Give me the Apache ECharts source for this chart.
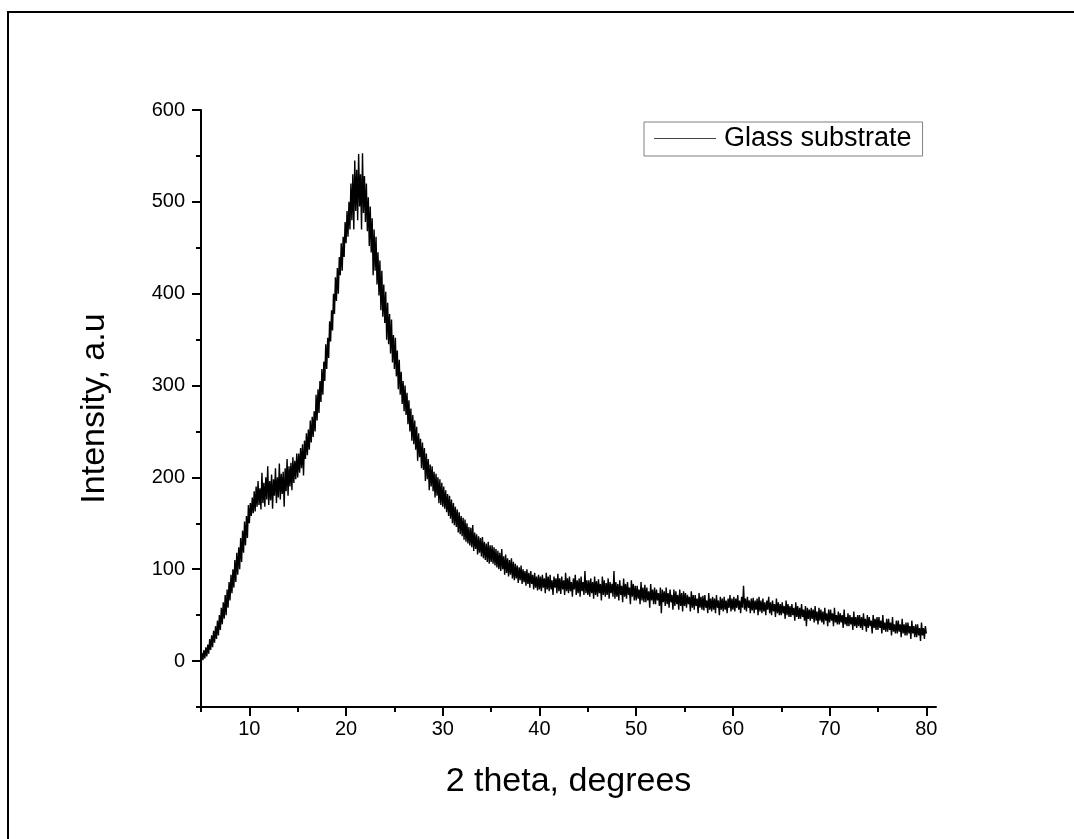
<!DOCTYPE html>
<html>
<head>
<meta charset="utf-8">
<script src="https://cdn.jsdelivr.net/npm/echarts@6/dist/echarts.min.js"></script>
<style>
  html, body { margin: 0; padding: 0; background: #fff; }
  #chart { width: 1074px; height: 839px; }
</style>
</head>
<body>
<div id="chart"></div>
<script>
  // XRD scan, 2 theta from 5 to 80 deg, step 0.1 deg
  var startAngle = 5;
  var stepAngle = 0.1;

  var intensity05 = [0, 9, 1, 12, 3, 15, 5, 18, 8, 24, 12, 28, 15, 33, 20, 38, 24, 44, 28, 50,
    34, 58, 40, 64, 46, 72, 50, 78, 58, 86, 66, 94, 74, 100, 80, 110, 86, 118, 94, 124,
    100, 134, 108, 142, 118, 152, 126, 158, 134, 170];
  var intensity10 = [150, 172, 158, 178, 161, 185, 163, 190, 168, 196, 170, 188, 165, 205, 172, 194, 168, 200, 176, 212,
    170, 196, 175, 203, 166, 198, 180, 210, 172, 200, 178, 215, 176, 204, 182, 206, 168, 210, 185, 220,
    180, 212, 190, 216, 186, 222, 194, 218, 198, 226];
  var intensity15 = [200, 226, 205, 232, 210, 236, 202, 240, 220, 248, 224, 252, 230, 262, 238, 266, 244, 272, 250, 290,
    262, 296, 270, 305, 282, 318, 290, 326, 305, 345, 318, 352, 330, 370, 348, 382, 360, 400, 378, 418,
    392, 428, 400, 440, 420, 455, 425, 462, 440, 478];
  var intensity20 = [455, 490, 462, 500, 470, 520, 480, 530, 470, 545, 490, 535, 480, 552, 495, 530, 470, 553, 488, 528,
    478, 520, 468, 505, 452, 495, 445, 482, 420, 470, 425, 462, 410, 445, 398, 436, 382, 425, 375, 410,
    368, 402, 350, 390, 345, 378, 335, 372, 325, 355];
  var intensity25 = [318, 352, 310, 338, 296, 328, 290, 315, 280, 305, 272, 300, 268, 292, 258, 284, 250, 275, 240, 268,
    236, 262, 230, 255, 218, 248, 222, 242, 210, 238, 208, 232, 196, 226, 198, 220, 186, 214, 190, 212,
    185, 206, 178, 204, 180, 200, 172, 198, 170, 194];
  var intensity30 = [168, 190, 166, 186, 162, 182, 158, 180, 155, 176, 150, 172, 148, 168, 146, 165, 140, 162, 138, 158,
    136, 156, 132, 154, 130, 150, 128, 146, 126, 145, 124, 148, 120, 140, 122, 138, 116, 136, 118, 134,
    114, 135, 112, 130, 110, 128, 108, 130, 106, 126];
  var intensity35 = [108, 126, 106, 124, 104, 122, 102, 120, 100, 118, 98, 122, 100, 114, 94, 116, 96, 112, 92, 110,
    94, 112, 90, 108, 88, 106, 90, 104, 85, 102, 88, 104, 84, 100, 86, 98, 82, 100, 84, 96,
    80, 98, 84, 94, 78, 96, 80, 92, 77, 94];
  var intensity40 = [78, 92, 76, 94, 80, 90, 74, 96, 78, 92, 76, 94, 78, 88, 72, 92, 80, 90, 74, 95,
    76, 90, 73, 92, 78, 88, 72, 96, 76, 90, 74, 92, 76, 86, 70, 90, 78, 94, 72, 88,
    74, 90, 70, 92, 76, 86, 72, 98, 74, 88];
  var intensity45 = [72, 88, 70, 90, 74, 86, 68, 92, 72, 87, 70, 89, 74, 84, 66, 92, 72, 88, 70, 85,
    72, 90, 68, 86, 74, 84, 70, 98, 68, 86, 70, 84, 66, 88, 72, 82, 64, 90, 70, 84,
    68, 86, 72, 80, 62, 88, 70, 84, 66, 82];
  var intensity50 = [66, 82, 68, 78, 62, 86, 66, 80, 64, 83, 64, 80, 66, 76, 58, 84, 66, 78, 62, 80,
    62, 78, 66, 74, 60, 80, 52, 78, 64, 76, 60, 80, 62, 74, 58, 78, 64, 72, 56, 78,
    60, 76, 62, 72, 56, 78, 60, 74, 54, 76];
  var intensity55 = [60, 74, 58, 72, 62, 70, 54, 76, 58, 72, 56, 72, 60, 68, 52, 74, 58, 70, 56, 71,
    55, 72, 58, 66, 52, 74, 56, 68, 54, 70, 56, 68, 52, 72, 58, 66, 50, 70, 56, 68,
    54, 70, 56, 66, 52, 68, 58, 72, 54, 68];
  var intensity60 = [56, 70, 54, 68, 58, 72, 56, 66, 52, 70, 58, 82, 56, 68, 54, 70, 58, 66, 52, 68,
    55, 69, 52, 66, 56, 68, 50, 70, 54, 66, 52, 68, 54, 64, 50, 66, 56, 70, 52, 64,
    50, 66, 54, 62, 48, 68, 52, 64, 50, 62];
  var intensity65 = [50, 64, 52, 60, 46, 66, 50, 62, 48, 60, 48, 62, 50, 58, 44, 64, 48, 60, 46, 58,
    46, 62, 48, 56, 44, 60, 38, 58, 46, 56, 44, 58, 46, 56, 42, 60, 44, 54, 40, 58,
    44, 56, 42, 54, 40, 58, 44, 52, 38, 56];
  var intensity70 = [42, 56, 44, 52, 38, 58, 42, 50, 40, 54, 40, 52, 42, 50, 36, 56, 40, 48, 38, 52,
    38, 50, 40, 48, 34, 54, 38, 48, 36, 50, 38, 50, 36, 48, 34, 52, 38, 46, 32, 50,
    36, 48, 38, 44, 30, 50, 36, 46, 34, 48];
  var intensity75 = [34, 48, 36, 44, 30, 50, 34, 42, 32, 46, 32, 46, 34, 42, 28, 48, 32, 40, 30, 44,
    30, 44, 32, 40, 26, 46, 30, 40, 28, 42, 28, 42, 30, 38, 24, 44, 30, 38, 26, 40,
    26, 40, 28, 36, 22, 42, 28, 36, 24, 38, 30];

  var xMajorTicks = [10, 20, 30, 40, 50, 60, 70, 80];
  var xMinorTicks = [5, 15, 25, 35, 45, 55, 65, 75];
  var yMajorTicks = [0, 100, 200, 300, 400, 500, 600];
  var yMinorTicks = [-50, 50, 150, 250, 350, 450, 550];

  var seriesName = 'Glass substrate';
  var xTitle = '2 theta, degrees';
  var yTitle = 'Intensity, a.u';

  var intensity = [].concat(intensity05, intensity10, intensity15, intensity20, intensity25,
    intensity30, intensity35, intensity40, intensity45, intensity50, intensity55,
    intensity60, intensity65, intensity70, intensity75);

  var points = [];
  for (var i = 0; i < intensity.length; i++) {
    points.push([Math.round((startAngle + i * stepAngle) * 10) / 10, intensity[i]]);
  }

  var font = 'Liberation Sans, Arial, sans-serif';
  var chart = echarts.init(document.getElementById('chart'));

  function xAxisBase(extra) {
    return Object.assign({
      type: 'value',
      min: 5,
      max: 81,
      position: 'bottom',
      splitLine: { show: false }
    }, extra);
  }
  function yAxisBase(extra) {
    return Object.assign({
      type: 'value',
      min: -50,
      max: 600,
      position: 'left',
      splitLine: { show: false }
    }, extra);
  }

  var option = {
    animation: false,
    backgroundColor: '#fff',
    textStyle: { fontFamily: font },
    grid: { left: 201, top: 110, width: 735, height: 597, containLabel: false },
    legend: {
      data: [seriesName],
      left: 644,
      top: 122,
      orient: 'horizontal',
      borderColor: '#808080',
      borderWidth: 1,
      padding: [3, 11, 4, 10],
      icon: 'rect',
      itemWidth: 62,
      itemHeight: 1,
      itemStyle: { color: '#444' },
      textStyle: { fontSize: 27, color: '#000', fontFamily: font, padding: [0, 0, 0, 3] }
    },
    xAxis: [
      xAxisBase({
        name: xTitle,
        nameLocation: 'middle',
        nameGap: 58,
        nameTextStyle: { fontSize: 34, color: '#000', fontFamily: font },
        axisLine: { onZero: false, lineStyle: { color: '#000', width: 2 } },
        axisTick: { show: true, customValues: xMajorTicks, length: 9, lineStyle: { color: '#000', width: 2 } },
        axisLabel: { customValues: xMajorTicks, fontSize: 20, color: '#000', margin: 12, fontFamily: font }
      }),
      xAxisBase({
        axisLine: { show: false, onZero: false },
        axisTick: { show: true, customValues: xMinorTicks, length: 5, lineStyle: { color: '#000', width: 2 } },
        axisLabel: { show: false }
      })
    ],
    yAxis: [
      yAxisBase({
        name: yTitle,
        nameLocation: 'middle',
        nameGap: 89,
        nameRotate: 90,
        nameTextStyle: { fontSize: 34, color: '#000', fontFamily: font },
        axisLine: { show: true, onZero: false, lineStyle: { color: '#000', width: 2 } },
        axisTick: { show: true, customValues: yMajorTicks, length: 9, lineStyle: { color: '#000', width: 2 } },
        axisLabel: { customValues: yMajorTicks, fontSize: 20, color: '#000', margin: 16, fontFamily: font }
      }),
      yAxisBase({
        axisLine: { show: false, onZero: false },
        axisTick: { show: true, customValues: yMinorTicks, length: 5, lineStyle: { color: '#000', width: 2 } },
        axisLabel: { show: false }
      })
    ],
    graphic: [
      {
        type: 'polyline',
        shape: { points: [[8, 839], [8, 12], [1074, 12]] },
        style: { stroke: '#000', lineWidth: 2, fill: null }
      }
    ],
    series: [
      {
        name: seriesName,
        type: 'line',
        data: points,
        symbol: 'none',
        sampling: null,
        lineStyle: { color: '#000', width: 1.4 },
        itemStyle: { color: '#000' }
      }
    ]
  };

  chart.setOption(option);
</script>
</body>
</html>
